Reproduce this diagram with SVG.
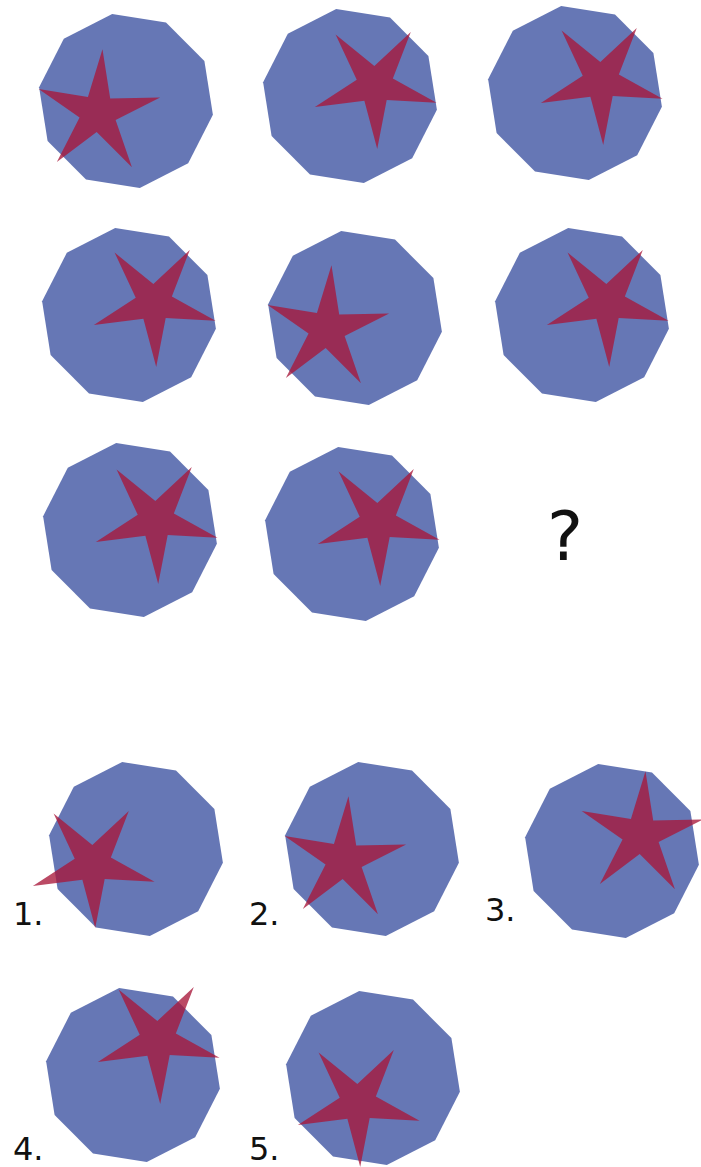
<svg xmlns="http://www.w3.org/2000/svg" width="701" height="1167" viewBox="0 0 701 1167">
<style>
.deca{fill:#6677b5}
.star{fill:#a8173a;fill-opacity:0.78}
.lbl{font-family:"DejaVu Sans","Liberation Sans",sans-serif;font-size:32px;fill:#111}
</style>
<defs>
<polygon id="deca" class="deca" points="-13.8,-86.9 40,-78.4 78.4,-40 86.9,13.8 62.2,62.2 13.8,86.9 -40,78.4 -78.4,40 -86.9,-13.8 -62.2,-62.2"/>
<polygon id="starA" class="star" points="62.1,-15.48 17.62,7.12 33.91,54.27 -1.33,18.95 -41.14,49.03 -18.44,4.6 -59.34,-23.97 -10.07,-16.11 4.47,-63.85 12.21,-14.55"/>
<polygon id="starB" class="star" points="61.52,17.64 11.7,14.97 2.23,63.96 -10.62,15.75 -60.14,21.89 -18.26,-5.24 -39.4,-50.43 -0.66,-18.99 35.79,-53.06 17.85,-6.5"/>
</defs>
<rect width="701" height="1167" fill="#ffffff"/>
<g id="fig1"><use href="#deca" x="126" y="101"/><use href="#starA" x="98" y="113"/></g>
<g id="fig2"><use href="#deca" x="350" y="96"/><use href="#starB" x="375" y="85"/></g>
<g id="fig3"><use href="#deca" x="575" y="93"/><use href="#starB" x="601" y="81"/></g>
<g id="fig4"><use href="#deca" x="129" y="315"/><use href="#starB" x="154" y="303"/></g>
<g id="fig5"><use href="#deca" x="355" y="318"/><use href="#starA" x="327" y="329"/></g>
<g id="fig6"><use href="#deca" x="582" y="315"/><use href="#starB" x="607" y="303"/></g>
<g id="fig7"><use href="#deca" x="130" y="530"/><use href="#starB" x="156" y="520"/></g>
<g id="fig8"><use href="#deca" x="352" y="534"/><use href="#starB" x="378" y="522"/></g>
<g id="question"><text x="565" y="560" text-anchor="middle" style="font-family:'DejaVu Sans','Liberation Sans',sans-serif;font-size:68px;fill:#111">?</text></g>
<g id="ans1"><use href="#deca" x="136" y="849"/><use href="#starB" x="93" y="864"/><text class="lbl" x="13" y="925">1.</text></g>
<g id="ans2"><use href="#deca" x="372" y="849"/><use href="#starA" x="344" y="860"/><text class="lbl" x="249" y="925">2.</text></g>
<g id="ans3"><use href="#deca" x="612" y="851"/><use href="#starA" x="641" y="835"/><text class="lbl" x="485" y="921">3.</text></g>
<g id="ans4"><use href="#deca" x="133" y="1075"/><use href="#starB" x="158" y="1040"/><text class="lbl" x="13" y="1160">4.</text></g>
<g id="ans5"><use href="#deca" x="373" y="1078"/><use href="#starB" x="358" y="1103"/><text class="lbl" x="249" y="1160">5.</text></g>
<g id="connectors"></g>
</svg>
